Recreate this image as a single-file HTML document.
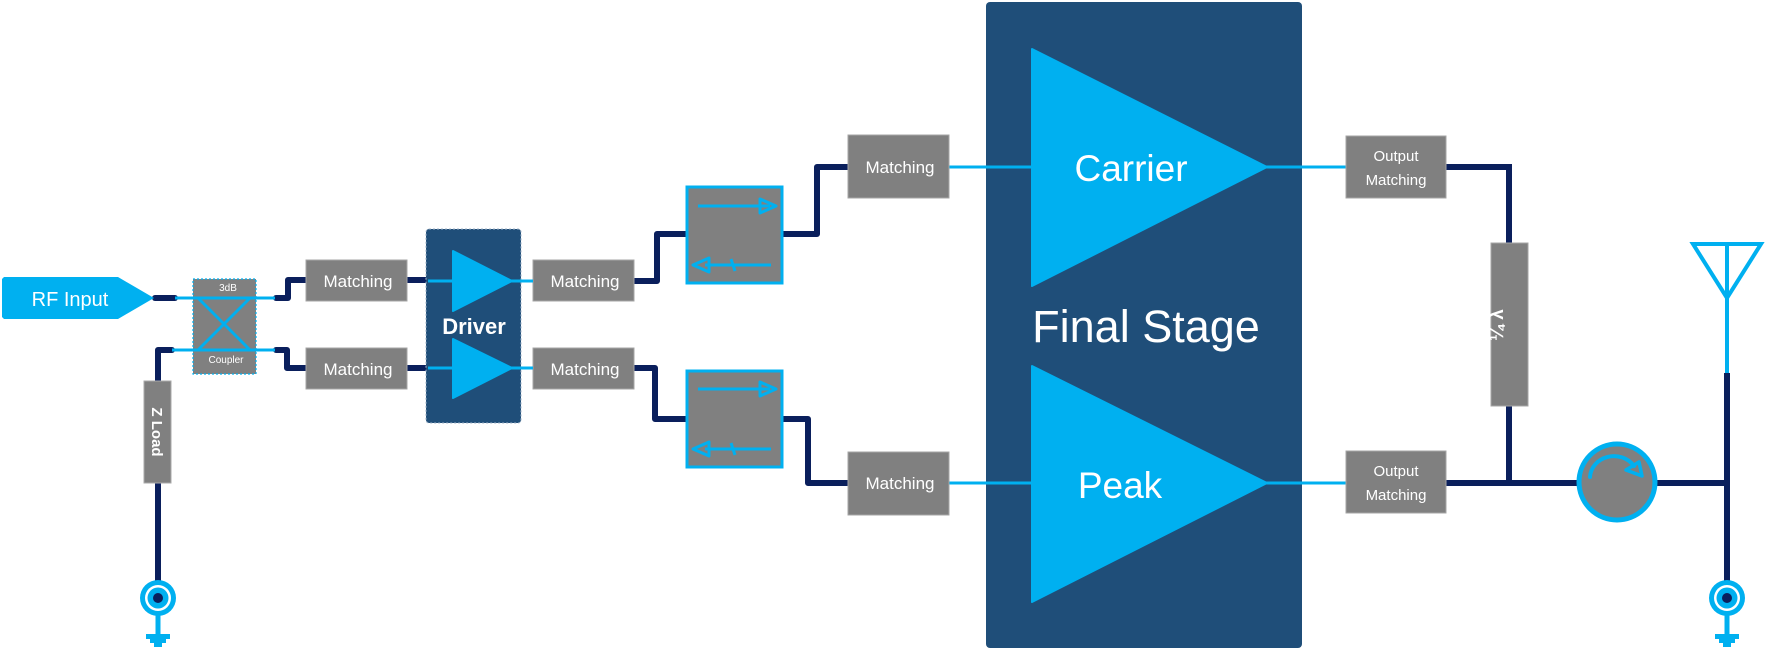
<!DOCTYPE html>
<html><head><meta charset="utf-8"><style>
html,body{margin:0;padding:0;background:#fff;}
svg{display:block;}
text{font-family:"Liberation Sans",sans-serif;fill:#fff;}
</style></head><body>
<svg width="1765" height="651" viewBox="0 0 1765 651" xmlns="http://www.w3.org/2000/svg">
<defs>
<g id="gnd">
<circle cx="0" cy="0" r="18" fill="#00b0f0"/>
<circle cx="0" cy="0" r="13" fill="#fff"/>
<circle cx="0" cy="0" r="10.5" fill="#00b0f0"/>
<circle cx="0" cy="0" r="5" fill="#0a1f5c"/>
<rect x="-2.5" y="17" width="5" height="22" fill="#00b0f0"/>
<rect x="-12" y="36" width="24" height="5" fill="#00b0f0"/>
<rect x="-8" y="41" width="16" height="4" fill="#00b0f0"/>
<rect x="-4" y="45" width="8" height="4" fill="#00b0f0"/>
</g>
</defs>

<!-- Final stage -->
<rect x="986" y="2" width="316" height="646" rx="4" fill="#1f4e79"/>

<!-- light blue signal lines -->
<g stroke="#00b0f0" stroke-width="3" fill="none">
<line x1="172" y1="298" x2="285" y2="298"/>
<line x1="165" y1="350" x2="285" y2="350"/>
<line x1="428" y1="281" x2="533" y2="281"/>
<line x1="428" y1="368" x2="533" y2="368"/>
<line x1="949" y1="167" x2="1346" y2="167"/>
<line x1="949" y1="483" x2="1346" y2="483"/>
</g>

<!-- dark lines -->
<g stroke="#0a1f5c" stroke-width="6" fill="none" stroke-linecap="round" stroke-linejoin="round">
<line x1="155" y1="298" x2="175" y2="298"/>
<polyline points="276,298 288,298 288,280 306,280"/>
<polyline points="276,350 287,350 287,368 306,368"/>
<polyline points="172,350 158,350 158,381"/>
<line x1="158" y1="483" x2="158" y2="582"/>
<line x1="407" y1="280" x2="427" y2="280"/>
<line x1="407" y1="368" x2="427" y2="368"/>
<polyline points="634,281 657,281 657,234 687,234"/>
<polyline points="634,368 655,368 655,419 687,419"/>
<polyline points="782,234 817,234 817,167 848,167"/>
<polyline points="782,419 808,419 808,483 848,483"/>
</g>
<g stroke="#0a1f5c" stroke-width="6" fill="none">
<polyline points="1446,167 1509,167 1509,243"/>
<line x1="1509" y1="406" x2="1509" y2="486"/>
<line x1="1446" y1="483" x2="1730" y2="483"/>
<line x1="1727" y1="373" x2="1727" y2="582"/>
</g>

<!-- RF input -->
<polygon points="2,279 4,277 118,277 154,298 118,319 4,319 2,317" fill="#00b0f0"/>
<text x="70" y="306" font-size="20" text-anchor="middle">RF Input</text>

<!-- coupler -->
<rect x="193" y="279" width="63" height="95" fill="#808080" stroke="#00b0f0" stroke-width="1.2" stroke-dasharray="2,2"/>
<g stroke="#00b0f0" stroke-width="3">
<line x1="175" y1="298" x2="275" y2="298"/>
<line x1="172" y1="350" x2="275" y2="350"/>
<line x1="198" y1="298" x2="250" y2="350"/>
<line x1="250" y1="298" x2="198" y2="350"/>
</g>
<text x="228" y="291" font-size="10" text-anchor="middle">3dB</text>
<text x="226" y="363" font-size="10" text-anchor="middle">Coupler</text>

<!-- Z load -->
<rect x="144" y="381" width="27" height="102" fill="#808080" stroke="#aaa" stroke-width="1"/>
<text x="0" y="0" font-size="15" font-weight="bold" text-anchor="middle" transform="translate(152,432) rotate(90)">Z Load</text>

<!-- Matching boxes -->
<g fill="#808080" stroke="#a6a6a6" stroke-width="1">
<rect x="306" y="260" width="101" height="41"/>
<rect x="306" y="348" width="101" height="41"/>
<rect x="533" y="260" width="101" height="41"/>
<rect x="533" y="348" width="101" height="41"/>
<rect x="848" y="135" width="101" height="63"/>
<rect x="848" y="452" width="101" height="63"/>
<rect x="1346" y="136" width="100" height="62"/>
<rect x="1346" y="451" width="100" height="62"/>
<rect x="1491" y="243" width="37" height="163"/>
</g>
<g font-size="17" text-anchor="middle">
<text x="358" y="287">Matching</text>
<text x="358" y="375">Matching</text>
<text x="585" y="287">Matching</text>
<text x="585" y="375">Matching</text>
<text x="900" y="173">Matching</text>
<text x="900" y="489">Matching</text>
</g>
<g font-size="15" text-anchor="middle">
<text x="1396" y="161">Output</text>
<text x="1396" y="185">Matching</text>
<text x="1396" y="476">Output</text>
<text x="1396" y="500">Matching</text>
</g>
<text x="0" y="0" font-size="19" font-weight="bold" text-anchor="middle" transform="translate(1503,325) rotate(-90)">¼ λ</text>

<!-- Driver -->
<rect x="426" y="229" width="95" height="194" rx="3" fill="#1f4e79" stroke="#9fb3c8" stroke-width="1" stroke-dasharray="2,2"/>
<g stroke="#00b0f0" stroke-width="3">
<line x1="428" y1="281" x2="533" y2="281"/>
<line x1="428" y1="368" x2="533" y2="368"/>
</g>
<polygon points="453,251 512,281 453,311" fill="#00b0f0" stroke="#00b0f0" stroke-width="2" stroke-linejoin="round"/>
<polygon points="453,339 512,368 453,398" fill="#00b0f0" stroke="#00b0f0" stroke-width="2" stroke-linejoin="round"/>
<text x="474" y="334" font-size="22" font-weight="bold" text-anchor="middle">Driver</text>

<!-- Isolators -->
<g>
<rect x="687" y="187" width="95" height="96" fill="#808080" stroke="#00b0f0" stroke-width="3"/>
<g stroke="#00b0f0" stroke-width="3" fill="none" stroke-linejoin="round">
<line x1="698" y1="206" x2="770" y2="206"/>
<polygon points="760,199 776,206 760,213"/>
<line x1="705" y1="265" x2="771" y2="265"/>
<polygon points="709,258 693,265 709,272"/>
<line x1="731" y1="259" x2="735" y2="271"/>
</g>
<rect x="687" y="371" width="95" height="96" fill="#808080" stroke="#00b0f0" stroke-width="3"/>
<g stroke="#00b0f0" stroke-width="3" fill="none" stroke-linejoin="round">
<line x1="698" y1="389" x2="770" y2="389"/>
<polygon points="760,382 776,389 760,396"/>
<line x1="705" y1="449" x2="771" y2="449"/>
<polygon points="709,442 693,449 709,456"/>
<line x1="731" y1="443" x2="735" y2="455"/>
</g>
</g>

<!-- Final stage triangles -->
<polygon points="1032,49 1267,167 1032,286" fill="#00b0f0" stroke="#00b0f0" stroke-width="2" stroke-linejoin="round"/>
<polygon points="1032,366 1267,483 1032,602" fill="#00b0f0" stroke="#00b0f0" stroke-width="2" stroke-linejoin="round"/>
<text x="1131" y="181" font-size="37" text-anchor="middle">Carrier</text>
<text x="1120" y="498" font-size="37" text-anchor="middle">Peak</text>
<text x="1146" y="342" font-size="45" text-anchor="middle">Final Stage</text>

<!-- Circulator -->
<circle cx="1617" cy="482" r="38" fill="#808080" stroke="#00b0f0" stroke-width="5"/>
<path d="M1590,477 A24,22 0 0 1 1634,466" fill="none" stroke="#00b0f0" stroke-width="4" stroke-linecap="round"/>
<polygon points="1626,470 1639,462 1642,476" fill="none" stroke="#00b0f0" stroke-width="3.5" stroke-linejoin="round"/>

<!-- Antenna -->
<line x1="1727" y1="244" x2="1727" y2="373" stroke="#00b0f0" stroke-width="4"/>
<polygon points="1693,244 1761,244 1727,298" fill="none" stroke="#00b0f0" stroke-width="4" stroke-linejoin="miter"/>

<!-- grounds -->
<use href="#gnd" x="158" y="598"/>
<use href="#gnd" x="1727" y="598"/>
</svg>
</body></html>
